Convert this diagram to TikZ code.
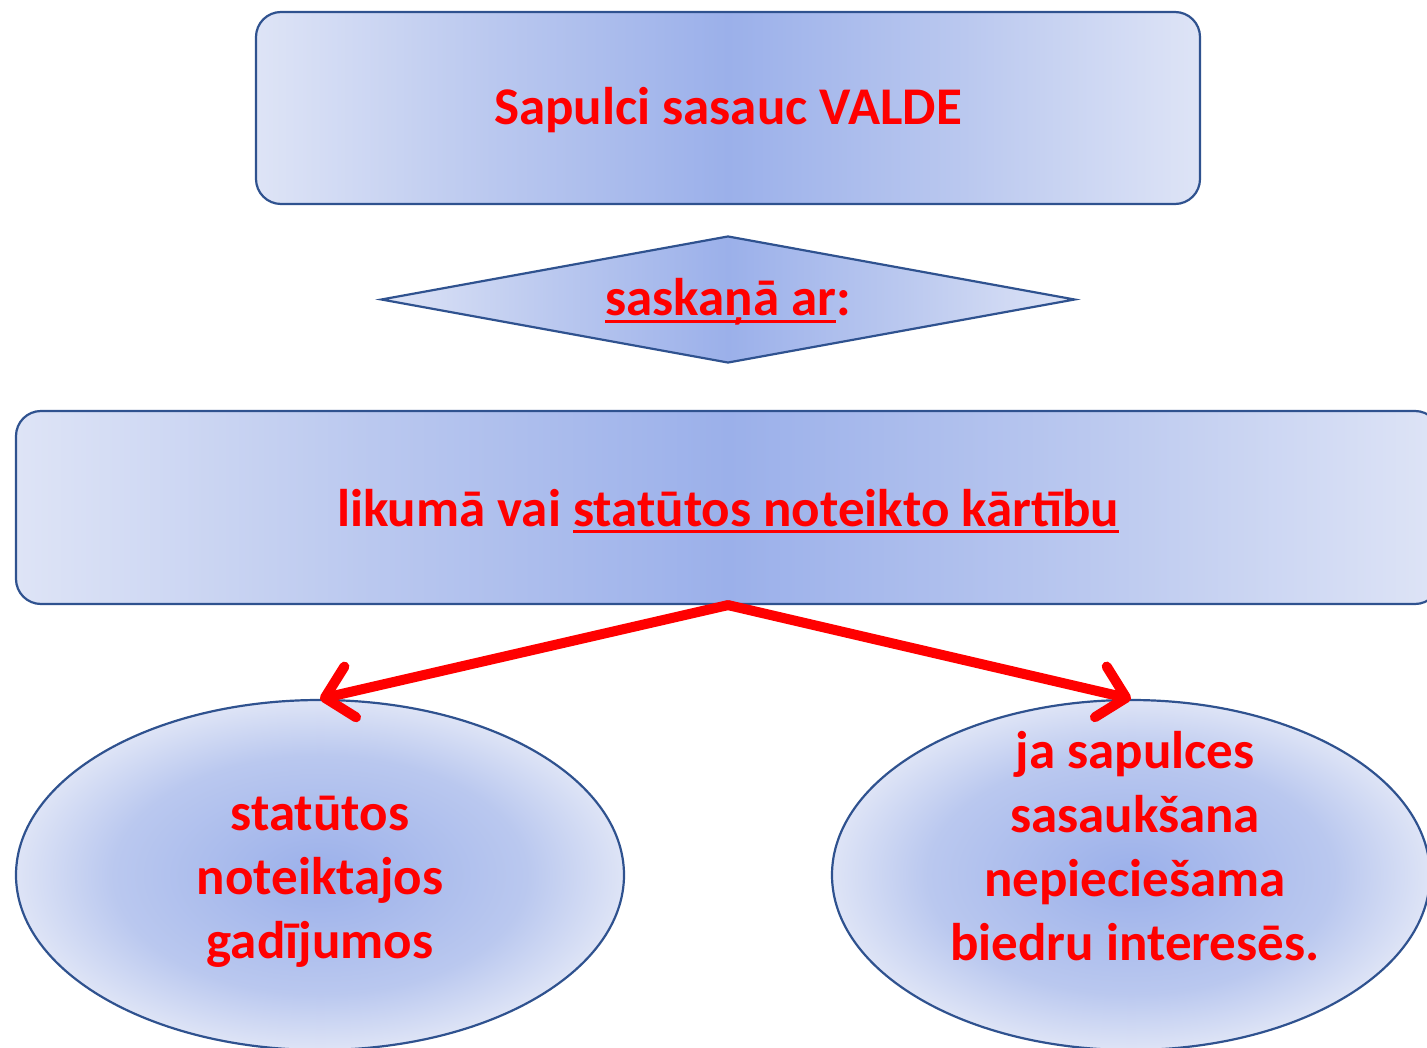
\documentclass[tikz,border=0pt]{standalone}
\usepackage{fontspec}
\setmainfont{Carlito}
\usetikzlibrary{shapes.geometric,arrows.meta}
\definecolor{shin}{RGB}{155,176,234}
\definecolor{shmid}{RGB}{186,200,239}
\definecolor{shout}{RGB}{222,228,246}
\definecolor{bord}{RGB}{47,82,143}
\definecolor{txtred}{RGB}{255,0,0}
\pgfdeclarehorizontalshading{hband}{100bp}{color(0bp)=(shout); color(25bp)=(shout); color(37.5bp)=(shmid); color(50bp)=(shin); color(62.5bp)=(shmid); color(75bp)=(shout); color(100bp)=(shout)}
\pgfdeclareradialshading{rglow}{\pgfpoint{0bp}{0bp}}{color(0bp)=(shin); color(17bp)=(shmid); color(25bp)=(shout); color(50bp)=(shout)}
\newcommand{\ulx}[1]{\leavevmode\setbox0=\hbox{#1}\rlap{\rule[-7pt]{\wd0}{3pt}}\box0}
\begin{document}
\begin{tikzpicture}[x=1pt,y=-1pt,
  shapebox/.style={draw=bord, line width=2.2pt},
  rbox/.style={shapebox, shading=hband, rectangle, rounded corners=25pt, inner sep=0pt},
  ebox/.style={shapebox, shading=rglow, ellipse, inner sep=0pt},
  lbl/.style={text=txtred, font=\fontsize{53}{64}\selectfont\bfseries, align=center},
  redarrow/.style={draw=txtred, line width=10pt, line cap=round,
    -{Straight Barb[length=26pt, width=52pt, line cap=round, line join=round]}}]
\useasboundingbox (0,0) rectangle (1427,1048);
\clip (0,0) rectangle (1427,1048);
\node[rbox, minimum width=944pt, minimum height=192pt] (top) at (728,108) {};
\node[lbl] (toptxt) at (728,110) {Sapulci sasauc VALDE};
\node[shapebox, shading=hband, diamond, inner sep=0pt, minimum width=694pt, minimum height=127pt, aspect=5.46] (dia) at (728,299.5) {};
\node[lbl] (diatxt) at (728,302) {\ulx{saskaņā ar}:};
\node[rbox, minimum width=1424pt, minimum height=193pt] (mid) at (728,507.5) {};
\node[lbl] (midtxt) at (728,511) {likumā vai \ulx{statūtos noteikto kārtību}};
\node[ebox, minimum width=608pt, minimum height=350pt] (left) at (320,875) {};
\node[lbl] (lefttxt) at (320,882) {statūtos\\noteiktajos\\gadījumos};
\node[ebox, minimum width=598pt, minimum height=350pt] (right) at (1131,875) {};
\node[lbl] (righttxt) at (1135,846) {ja sapulces\\sasaukšana\\nepieciešama\\biedru interesēs.};
\draw[redarrow] (mid.south) -- (left.north);
\draw[redarrow] (mid.south) -- (right.north);
\end{tikzpicture}
\end{document}
